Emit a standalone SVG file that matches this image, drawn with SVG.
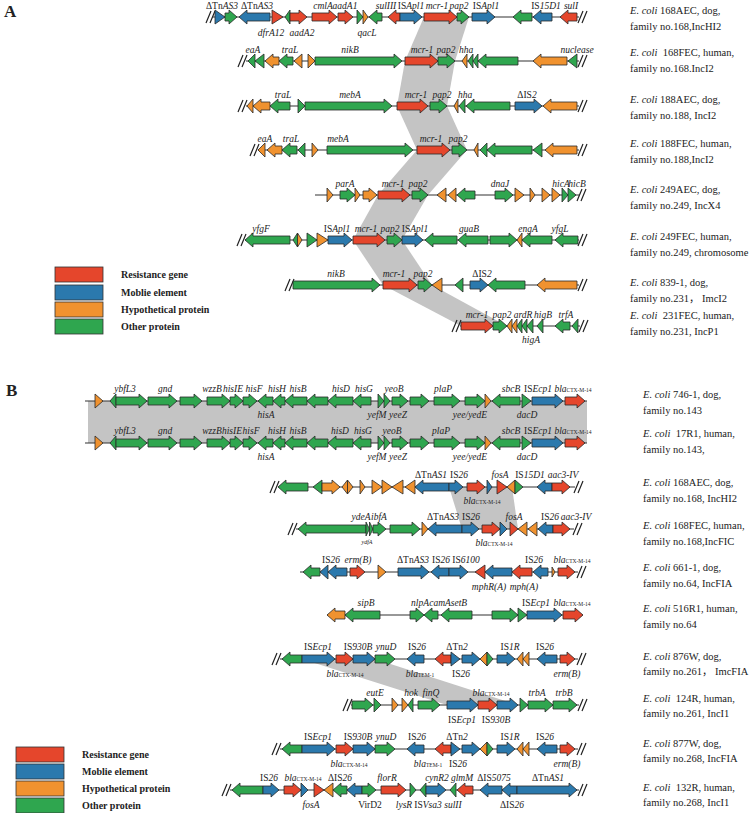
<svg xmlns="http://www.w3.org/2000/svg" xmlns:xlink="http://www.w3.org/1999/xlink" width="750" height="813" viewBox="0 0 750 813">
<style>
polygon{stroke:#2a2a2a;stroke-width:0.8;stroke-linejoin:miter}
.r{fill:#e5462c}.b{fill:#2b79ad}.o{fill:#f0922f}.g{fill:#2fa64f}
.ln{stroke:#333;stroke-width:1.2}
.band{fill:#c4c4c4;stroke:none}
text{font-family:"Liberation Serif","Noto Sans CJK SC",serif;fill:#222}
.t{font-size:9.5px;font-style:italic;text-anchor:middle}
.u{font-style:normal}
.s{font-size:5.5px;font-style:normal}
.rl{font-size:10.5px;white-space:pre}
.i{font-style:italic}
.lg{font-size:10px;font-weight:bold}
.pl{font-size:17px;font-weight:bold}
.leg{stroke:#333;stroke-width:0.8}
</style>
<defs>
<g id="brk"><path d="M0,6 L5,-6 M4,6 L9,-6" stroke="#222" stroke-width="1.2" fill="none"/></g>
</defs>
<rect width="750" height="813" fill="#fff"/>

<text class="pl" x="4" y="17">A</text>
<text class="pl" x="6" y="396">B</text>

<g id="connectors">
<polygon class="band" points="424,17 469,17 455,61 405,61"/>
<polygon class="band" points="405,61 455,61 447,106 397,106"/>
<polygon class="band" points="397,106 447,106 467,150 417,150"/>
<polygon class="band" points="417,150 467,150 428,195 378,195"/>
<polygon class="band" points="378,195 428,195 402,240 353,240"/>
<polygon class="band" points="353,240 402,240 432,285 383,285"/>
<polygon class="band" points="383,285 432,285 507,326 461,326"/>
<rect class="band" x="88" y="401" width="499" height="42"/>
<polygon class="band" points="449,487 512,487 518,529 462,529"/>
<polygon class="band" points="302,659 375,659 518,705 447,705"/>
</g>

<!-- Panel A -->
<g id="a1" transform="translate(0,17)">
<line class="ln" x1="213" x2="579" y1="0" y2="0"/>
<use href="#brk" x="206" y="0"/><use href="#brk" x="578" y="0"/>
<polygon class="b" points="215,-7 225,0 215,7"/>
<polygon class="g" points="225,-4 229,-4 229,-7 237,0 229,7 229,4 225,4"/>
<polygon class="b" points="270,-4 247,-4 247,-7 239,0 247,7 247,4 270,4"/>
<polygon class="r" points="272,-7 283,0 272,7"/>
<polygon class="g" points="290,-7 285,0 290,7"/>
<polygon class="r" points="290,-4 299,-4 299,-7 307,0 299,7 299,4 290,4"/>
<polygon class="r" points="312,-4 329,-4 329,-7 337,0 329,7 329,4 312,4"/>
<polygon class="r" points="338,-4 345,-4 345,-7 353,0 345,7 345,4 338,4"/>
<polygon class="g" points="357,-7 363,0 357,7"/>
<polygon class="o" points="363,-7 368,0 363,7"/>
<polygon class="g" points="382,-4 377,-4 377,-7 369,0 377,7 377,4 382,4"/>
<polygon class="r" points="400,-4 396,-4 396,-7 388,0 396,7 396,4 400,4"/>
<polygon class="b" points="400,-4 414,-4 414,-7 422,0 414,7 414,4 400,4"/>
<polygon class="r" points="424,-4 449,-4 449,-7 457,0 449,7 449,4 424,4"/>
<polygon class="g" points="457,-4 461,-4 461,-7 469,0 461,7 461,4 457,4"/>
<polygon class="b" points="472,-4 487,-4 487,-7 495,0 487,7 487,4 472,4"/>
<polygon class="g" points="532,-4 521,-4 521,-7 513,0 521,7 521,4 532,4"/>
<polygon class="b" points="552,-4 541,-4 541,-7 533,0 541,7 541,4 552,4"/>
<polygon class="r" points="577,-4 568,-4 568,-7 560,0 568,7 568,4 577,4"/>
<text class="t" x="222" y="-8"><tspan class="u">ΔTn</tspan>AS3</text>
<text class="t" x="257" y="-8"><tspan class="u">ΔTn</tspan>AS3</text>
<text class="t" x="323" y="-8">cmlA</text>
<text class="t" x="345" y="-8">aadA1</text>
<text class="t" x="386" y="-8">sulIII</text>
<text class="t" x="411" y="-8"><tspan class="u">IS</tspan>Apl1</text>
<text class="t" x="437" y="-8">mcr-1</text>
<text class="t" x="459" y="-8">pap2</text>
<text class="t" x="486" y="-8"><tspan class="u">IS</tspan>Apl1</text>
<text class="t" x="546" y="-8"><tspan class="u">IS</tspan>15D1</text>
<text class="t" x="571" y="-8">sulI</text>
<text class="t" x="271" y="19">dfrA12</text>
<text class="t" x="302" y="19">aadA2</text>
<text class="t" x="367" y="19">qacL</text>
</g>

<g id="a2" transform="translate(0,61)">
<line class="ln" x1="246" x2="579" y1="0" y2="0"/>
<use href="#brk" x="238" y="0"/><use href="#brk" x="578" y="0"/>
<polygon class="g" points="255,-7 248,0 255,7"/>
<polygon class="g" points="264,-7 255,0 264,7"/>
<polygon class="o" points="279,-4 273,-4 273,-7 265,0 273,7 273,4 279,4"/>
<polygon class="g" points="293,-4 287,-4 287,-7 279,0 287,7 287,4 293,4"/>
<polygon class="o" points="302,-7 294,0 302,7"/>
<polygon class="o" points="308,-7 315,0 308,7"/>
<polygon class="g" points="315,-4 394,-4 394,-7 402,0 394,7 394,4 315,4"/>
<polygon class="r" points="405,-4 430,-4 430,-7 438,0 430,7 430,4 405,4"/>
<polygon class="g" points="438,-4 447,-4 447,-7 455,0 447,7 447,4 438,4"/>
<polygon class="o" points="467,-7 462,0 467,7"/>
<polygon class="g" points="473,-7 468,0 473,7"/>
<polygon class="g" points="478,-7 473,0 478,7"/>
<polygon class="g" points="518,-4 486,-4 486,-7 478,0 486,7 486,4 518,4"/>
<polygon class="o" points="567,-4 541,-4 541,-7 533,0 541,7 541,4 567,4"/>
<polygon class="g" points="577,-7 568,0 577,7"/>
<text class="t" x="253" y="-8">eaA</text>
<text class="t" x="290" y="-8">traL</text>
<text class="t" x="350" y="-8">nikB</text>
<text class="t" x="422" y="-8">mcr-1</text>
<text class="t" x="446" y="-8">pap2</text>
<text class="t" x="466" y="-8">hha</text>
<text class="t" x="577" y="-8">nuclease</text>
</g>

<g id="a3" transform="translate(0,106)">
<line class="ln" x1="246" x2="579" y1="0" y2="0"/>
<use href="#brk" x="238" y="0"/><use href="#brk" x="578" y="0"/>
<polygon class="o" points="253,-7 247,0 253,7"/>
<polygon class="o" points="270,-4 261,-4 261,-7 253,0 261,7 261,4 270,4"/>
<polygon class="g" points="290,-4 278,-4 278,-7 270,0 278,7 278,4 290,4"/>
<polygon class="g" points="298,-7 305,0 298,7"/>
<polygon class="g" points="305,-4 384,-4 384,-7 392,0 384,7 384,4 305,4"/>
<polygon class="r" points="397,-4 420,-4 420,-7 428,0 420,7 420,4 397,4"/>
<polygon class="g" points="430,-4 439,-4 439,-7 447,0 439,7 439,4 430,4"/>
<polygon class="o" points="458,-7 454,0 458,7"/>
<polygon class="g" points="465,-7 459,0 465,7"/>
<polygon class="g" points="510,-4 474,-4 474,-7 466,0 474,7 474,4 510,4"/>
<polygon class="b" points="515,-4 534,-4 534,-7 542,0 534,7 534,4 515,4"/>
<polygon class="o" points="577,-4 551,-4 551,-7 543,0 551,7 551,4 577,4"/>
<text class="t" x="283" y="-8">traL</text>
<text class="t" x="350" y="-8">mebA</text>
<text class="t" x="416" y="-8">mcr-1</text>
<text class="t" x="442" y="-8">pap2</text>
<text class="t" x="465" y="-8">hha</text>
<text class="t" x="527" y="-8"><tspan class="u">ΔIS</tspan>2</text>
</g>

<g id="a4" transform="translate(0,150)">
<line class="ln" x1="258" x2="579" y1="0" y2="0"/>
<use href="#brk" x="250" y="0"/><use href="#brk" x="578" y="0"/>
<polygon class="o" points="265,-7 258,0 265,7"/>
<polygon class="o" points="282,-4 275,-4 275,-7 267,0 275,7 275,4 282,4"/>
<polygon class="g" points="297,-4 290,-4 290,-7 282,0 290,7 290,4 297,4"/>
<polygon class="g" points="305,-7 298,0 305,7"/>
<polygon class="o" points="312,-7 318,0 312,7"/>
<polygon class="g" points="327,-4 405,-4 405,-7 413,0 405,7 405,4 327,4"/>
<polygon class="r" points="417,-4 442,-4 442,-7 450,0 442,7 442,4 417,4"/>
<polygon class="g" points="452,-4 459,-4 459,-7 467,0 459,7 459,4 452,4"/>
<polygon class="o" points="478,-7 474,0 478,7"/>
<polygon class="g" points="487,-7 480,0 487,7"/>
<polygon class="g" points="532,-4 495,-4 495,-7 487,0 495,7 495,4 532,4"/>
<polygon class="g" points="542,-7 533,0 542,7"/>
<polygon class="o" points="577,-4 553,-4 553,-7 545,0 553,7 553,4 577,4"/>
<text class="t" x="265" y="-8">eaA</text>
<text class="t" x="291" y="-8">traL</text>
<text class="t" x="338" y="-8">mebA</text>
<text class="t" x="431" y="-8">mcr-1</text>
<text class="t" x="458" y="-8">pap2</text>
</g>

<g id="a5" transform="translate(0,195)">
<line class="ln" x1="315" x2="579" y1="0" y2="0"/>
<use href="#brk" x="577" y="0"/>
<polygon class="o" points="327,-7 333,0 327,7"/>
<polygon class="g" points="340,-4 347,-4 347,-7 355,0 347,7 347,4 340,4"/>
<polygon class="o" points="355,-7 360,0 355,7"/>
<polygon class="o" points="363,-4 369,-4 369,-7 377,0 369,7 369,4 363,4"/>
<polygon class="r" points="378,-4 402,-4 402,-7 410,0 402,7 402,4 378,4"/>
<polygon class="g" points="412,-4 420,-4 420,-7 428,0 420,7 420,4 412,4"/>
<polygon class="o" points="446,-7 437,0 446,7"/>
<polygon class="o" points="456,-7 448,0 456,7"/>
<polygon class="g" points="475,-4 465,-4 465,-7 457,0 465,7 465,4 475,4"/>
<polygon class="g" points="495,-4 505,-4 505,-7 513,0 505,7 505,4 495,4"/>
<polygon class="o" points="515,-7 524,0 515,7"/>
<polygon class="o" points="530,-7 535,0 530,7"/>
<polygon class="o" points="542,-7 550,0 542,7"/>
<polygon class="o" points="552,-7 560,0 552,7"/>
<polygon class="g" points="562,-7 568,0 562,7"/>
<polygon class="g" points="568,-7 576,0 568,7"/>
<text class="t" x="345" y="-8">parA</text>
<text class="t" x="393" y="-8">mcr-1</text>
<text class="t" x="418" y="-8">pap2</text>
<text class="t" x="500" y="-8">dnaJ</text>
<text class="t" x="561" y="-8">hicA</text>
<text class="t" x="577" y="-8">hicB</text>
</g>

<g id="a6" transform="translate(0,240)">
<line class="ln" x1="245" x2="579" y1="0" y2="0"/>
<use href="#brk" x="237" y="0"/><use href="#brk" x="578" y="0"/>
<polygon class="g" points="290,-4 253,-4 253,-7 245,0 253,7 253,4 290,4"/>
<polygon class="g" points="297.5,-7 293,0 297.5,7"/>
<polygon class="o" points="297.5,-7 302,0 297.5,7"/>
<polygon class="g" points="307,-7 317,0 307,7"/>
<polygon class="o" points="317,-7 328,0 317,7"/>
<polygon class="b" points="328,-4 344,-4 344,-7 352,0 344,7 344,4 328,4"/>
<polygon class="r" points="353,-4 377,-4 377,-7 385,0 377,7 377,4 353,4"/>
<polygon class="g" points="387,-4 394,-4 394,-7 402,0 394,7 394,4 387,4"/>
<polygon class="b" points="402,-4 415,-4 415,-7 423,0 415,7 415,4 402,4"/>
<polygon class="g" points="457,-4 433,-4 433,-7 425,0 433,7 433,4 457,4"/>
<polygon class="g" points="488,-4 466,-4 466,-7 458,0 466,7 466,4 488,4"/>
<polygon class="g" points="490,-4 509,-4 509,-7 517,0 509,7 509,4 490,4"/>
<polygon class="o" points="522,-7 517,0 522,7"/>
<polygon class="g" points="552,-4 530,-4 530,-7 522,0 530,7 530,4 552,4"/>
<polygon class="g" points="578,-4 563,-4 563,-7 555,0 563,7 563,4 578,4"/>
<text class="t" x="261" y="-8">yfgF</text>
<text class="t" x="337" y="-8"><tspan class="u">IS</tspan>Apl1</text>
<text class="t" x="366" y="-8">mcr-1</text>
<text class="t" x="390" y="-8">pap2</text>
<text class="t" x="415" y="-8"><tspan class="u">IS</tspan>Apl1</text>
<text class="t" x="469" y="-8">guaB</text>
<text class="t" x="528" y="-8">engA</text>
<text class="t" x="560" y="-8">yfgL</text>
</g>

<g id="a7" transform="translate(0,285)">
<line class="ln" x1="293" x2="579" y1="0" y2="0"/>
<use href="#brk" x="285" y="0"/><use href="#brk" x="578" y="0"/>
<polygon class="g" points="293,-4 372,-4 372,-7 380,0 372,7 372,4 293,4"/>
<polygon class="r" points="383,-4 409,-4 409,-7 417,0 409,7 409,4 383,4"/>
<polygon class="g" points="418,-4 424,-4 424,-7 432,0 424,7 424,4 418,4"/>
<polygon class="o" points="442,-7 432,0 442,7"/>
<polygon class="g" points="463,-7 455,0 463,7"/>
<polygon class="b" points="470,-4 480,-4 480,-7 488,0 480,7 480,4 470,4"/>
<polygon class="g" points="525,-4 496,-4 496,-7 488,0 496,7 496,4 525,4"/>
<polygon class="o" points="577,-4 545,-4 545,-7 537,0 545,7 545,4 577,4"/>
<text class="t" x="336" y="-8">nikB</text>
<text class="t" x="394" y="-8">mcr-1</text>
<text class="t" x="423" y="-8">pap2</text>
<text class="t" x="482" y="-8"><tspan class="u">ΔIS</tspan>2</text>
</g>

<g id="a8" transform="translate(0,326)">
<line class="ln" x1="460" x2="580" y1="0" y2="0"/>
<use href="#brk" x="452" y="0"/><use href="#brk" x="579" y="0"/>
<polygon class="r" points="461,-4 485,-4 485,-7 493,0 485,7 485,4 461,4"/>
<polygon class="g" points="493,-4 499,-4 499,-7 507,0 499,7 499,4 493,4"/>
<polygon class="o" points="512,-7 507,0 512,7"/>
<polygon class="o" points="517,-7 512,0 517,7"/>
<polygon class="g" points="522,-7 517,0 522,7"/>
<polygon class="g" points="527,-7 522,0 527,7"/>
<polygon class="g" points="533,-7 527,0 533,7"/>
<polygon class="g" points="543,-7 537,0 543,7"/>
<polygon class="g" points="570,-4 563,-4 563,-7 555,0 563,7 563,4 570,4"/>
<polygon class="g" points="578,-7 572,0 578,7"/>
<text class="t" x="477" y="-8">mcr-1</text>
<text class="t" x="502" y="-8">pap2</text>
<text class="t" x="523" y="-8">ardR</text>
<text class="t" x="543" y="-8">higB</text>
<text class="t" x="566" y="-8">trfA</text>
<text class="t" x="531" y="17">higA</text>
</g>

<g id="labelsA">
<text class="rl" x="630" y="14"><tspan class="i">E. coli</tspan> 168AEC, dog,</text>
<text class="rl" x="630" y="30">family no.168,IncHI2</text>
<text class="rl" x="630" y="56"><tspan class="i">E. coli</tspan>  168FEC, human,</text>
<text class="rl" x="630" y="72">family no.168.IncI2</text>
<text class="rl" x="630" y="103"><tspan class="i">E. coli</tspan> 188AEC, dog,</text>
<text class="rl" x="630" y="119">family no.188, IncI2</text>
<text class="rl" x="630" y="147"><tspan class="i">E. coli</tspan> 188FEC, human,</text>
<text class="rl" x="630" y="163">family no.188,IncI2</text>
<text class="rl" x="630" y="193"><tspan class="i">E. coli</tspan> 249AEC, dog,</text>
<text class="rl" x="630" y="209">family no.249, IncX4</text>
<text class="rl" x="630" y="240"><tspan class="i">E. coli</tspan> 249FEC, human,</text>
<text class="rl" x="630" y="256">family no.249, chromosome</text>
<text class="rl" x="630" y="286"><tspan class="i">E. coli</tspan> 839-1, dog,</text>
<text class="rl" x="630" y="302">family no.231， ImcI2</text>
<text class="rl" x="630" y="319"><tspan class="i">E. coli</tspan>  231FEC, human,</text>
<text class="rl" x="630" y="335">family no.231, IncP1</text>
</g>

<g id="legendA">
<rect class="leg r" x="55" y="267" width="48" height="15"/>
<rect class="leg b" x="55" y="285" width="48" height="15"/>
<rect class="leg o" x="55" y="302" width="48" height="15"/>
<rect class="leg g" x="55" y="319" width="48" height="15"/>
<text class="lg" x="121" y="278">Resistance gene</text>
<text class="lg" x="121" y="296">Moblie element</text>
<text class="lg" x="121" y="313">Hypothetical protein</text>
<text class="lg" x="121" y="330">Other protein</text>
</g>

<!-- Panel B -->
<g id="b1" transform="translate(0,401)">
<line class="ln" x1="85" x2="587" y1="0" y2="0"/>
<polygon class="o" points="95,-7 103,0 95,7"/>
<polygon class="g" points="116,-7 110,0 116,7"/>
<polygon class="g" points="116,-4 139,-4 139,-7 147,0 139,7 139,4 116,4"/>
<polygon class="g" points="148,-4 169,-4 169,-7 177,0 169,7 169,4 148,4"/>
<polygon class="g" points="180,-4 194,-4 194,-7 202,0 194,7 194,4 180,4"/>
<polygon class="g" points="207,-4 222,-4 222,-7 230,0 222,7 222,4 207,4"/>
<polygon class="g" points="230,-4 235,-4 235,-7 243,0 235,7 235,4 230,4"/>
<polygon class="g" points="243,-4 249,-4 249,-7 257,0 249,7 249,4 243,4"/>
<polygon class="g" points="273,-4 266,-4 266,-7 258,0 266,7 266,4 273,4"/>
<polygon class="g" points="285,-4 281,-4 281,-7 273,0 281,7 281,4 285,4"/>
<polygon class="g" points="307,-4 293,-4 293,-7 285,0 293,7 293,4 307,4"/>
<polygon class="g" points="328,-4 315,-4 315,-7 307,0 315,7 315,4 328,4"/>
<polygon class="g" points="353,-4 336,-4 336,-7 328,0 336,7 336,4 353,4"/>
<polygon class="g" points="371,-4 361,-4 361,-7 353,0 361,7 361,4 371,4"/>
<polygon class="g" points="378,-7 384,0 378,7"/>
<polygon class="g" points="384,-7 390,0 384,7"/>
<polygon class="g" points="392,-4 400,-4 400,-7 408,0 400,7 400,4 392,4"/>
<polygon class="g" points="410,-4 421,-4 421,-7 429,0 421,7 421,4 410,4"/>
<polygon class="g" points="434,-4 452,-4 452,-7 460,0 452,7 452,4 434,4"/>
<polygon class="g" points="465,-4 477,-4 477,-7 485,0 477,7 477,4 465,4"/>
<polygon class="o" points="485,-7 491,0 485,7"/>
<polygon class="g" points="520,-4 500,-4 500,-7 492,0 500,7 500,4 520,4"/>
<polygon class="g" points="522,-7 531,0 522,7"/>
<polygon class="b" points="532,-4 555,-4 555,-7 563,0 555,7 555,4 532,4"/>
<polygon class="r" points="565,-4 577,-4 577,-7 585,0 577,7 577,4 565,4"/>
<text class="t" x="125" y="-9">ybfL3</text>
<text class="t" x="165" y="-9">gnd</text>
<text class="t" x="212" y="-9">wzzB</text>
<text class="t" x="233" y="-9">hisIE</text>
<text class="t" x="254" y="-9">hisF</text>
<text class="t" x="277" y="-9">hisH</text>
<text class="t" x="298" y="-9">hisB</text>
<text class="t" x="341" y="-9">hisD</text>
<text class="t" x="364" y="-9">hisG</text>
<text class="t" x="394" y="-9">yeoB</text>
<text class="t" x="443" y="-9">plaP</text>
<text class="t" x="511" y="-9">sbcB</text>
<text class="t" x="538" y="-9"><tspan class="u">IS</tspan>Ecp1</text>
<text class="t" x="573" y="-9">bla<tspan class="s">CTX-M-14</tspan></text>
<text class="t" x="266" y="17">hisA</text>
<text class="t" x="377" y="17">yefM</text>
<text class="t" x="398" y="17">yeeZ</text>
<text class="t" x="470" y="17">yee/yedE</text>
<text class="t" x="527" y="17">dacD</text>
</g>

<g id="b2" transform="translate(0,443)">
<line class="ln" x1="85" x2="587" y1="0" y2="0"/>
<polygon class="o" points="95,-7 103,0 95,7"/>
<polygon class="g" points="116,-7 110,0 116,7"/>
<polygon class="g" points="116,-4 139,-4 139,-7 147,0 139,7 139,4 116,4"/>
<polygon class="g" points="148,-4 169,-4 169,-7 177,0 169,7 169,4 148,4"/>
<polygon class="g" points="180,-4 194,-4 194,-7 202,0 194,7 194,4 180,4"/>
<polygon class="g" points="207,-4 222,-4 222,-7 230,0 222,7 222,4 207,4"/>
<polygon class="g" points="230,-4 235,-4 235,-7 243,0 235,7 235,4 230,4"/>
<polygon class="g" points="243,-4 249,-4 249,-7 257,0 249,7 249,4 243,4"/>
<polygon class="g" points="273,-4 266,-4 266,-7 258,0 266,7 266,4 273,4"/>
<polygon class="g" points="285,-4 281,-4 281,-7 273,0 281,7 281,4 285,4"/>
<polygon class="g" points="307,-4 293,-4 293,-7 285,0 293,7 293,4 307,4"/>
<polygon class="g" points="328,-4 315,-4 315,-7 307,0 315,7 315,4 328,4"/>
<polygon class="g" points="353,-4 336,-4 336,-7 328,0 336,7 336,4 353,4"/>
<polygon class="g" points="371,-4 361,-4 361,-7 353,0 361,7 361,4 371,4"/>
<polygon class="g" points="378,-7 384,0 378,7"/>
<polygon class="g" points="384,-7 390,0 384,7"/>
<polygon class="g" points="392,-4 400,-4 400,-7 408,0 400,7 400,4 392,4"/>
<polygon class="g" points="410,-4 421,-4 421,-7 429,0 421,7 421,4 410,4"/>
<polygon class="g" points="434,-4 452,-4 452,-7 460,0 452,7 452,4 434,4"/>
<polygon class="g" points="465,-4 477,-4 477,-7 485,0 477,7 477,4 465,4"/>
<polygon class="o" points="485,-7 491,0 485,7"/>
<polygon class="g" points="520,-4 500,-4 500,-7 492,0 500,7 500,4 520,4"/>
<polygon class="g" points="522,-7 531,0 522,7"/>
<polygon class="b" points="532,-4 555,-4 555,-7 563,0 555,7 555,4 532,4"/>
<polygon class="r" points="565,-4 577,-4 577,-7 585,0 577,7 577,4 565,4"/>
<text class="t" x="125" y="-9">ybfL3</text>
<text class="t" x="165" y="-9">gnd</text>
<text class="t" x="212" y="-9">wzzB</text>
<text class="t" x="232" y="-9">hisIE</text>
<text class="t" x="251" y="-9">hisF</text>
<text class="t" x="277" y="-9">hisH</text>
<text class="t" x="298" y="-9">hisB</text>
<text class="t" x="340" y="-9">hisD</text>
<text class="t" x="363" y="-9">hisG</text>
<text class="t" x="392" y="-9">yeoB</text>
<text class="t" x="441" y="-9">plaP</text>
<text class="t" x="511" y="-9">sbcB</text>
<text class="t" x="538" y="-9"><tspan class="u">IS</tspan>Ecp1</text>
<text class="t" x="573" y="-9">bla<tspan class="s">CTX-M-14</tspan></text>
<text class="t" x="266" y="17">hisA</text>
<text class="t" x="377" y="17">yefM</text>
<text class="t" x="398" y="17">yeeZ</text>
<text class="t" x="470" y="17">yee/yedE</text>
<text class="t" x="527" y="17">dacD</text>
</g>

<g id="b3" transform="translate(0,487)">
<line class="ln" x1="278" x2="575" y1="0" y2="0"/>
<use href="#brk" x="270" y="0"/><use href="#brk" x="574" y="0"/>
<polygon class="g" points="308,-4 286,-4 286,-7 278,0 286,7 286,4 308,4"/>
<polygon class="g" points="322,-7 313,0 322,7"/>
<polygon class="o" points="322,-4 332,-4 332,-7 340,0 332,7 332,4 322,4"/>
<polygon class="o" points="347.5,-7 342,0 347.5,7"/>
<polygon class="o" points="347.5,-7 353,0 347.5,7"/>
<polygon class="o" points="360,-7 365,0 360,7"/>
<polygon class="o" points="372,-7 382,0 372,7"/>
<polygon class="o" points="382,-7 392,0 382,7"/>
<polygon class="o" points="403,-7 392,0 403,7"/>
<polygon class="o" points="415,-7 405,0 415,7"/>
<polygon class="b" points="449,-4 423,-4 423,-7 415,0 423,7 423,4 449,4"/>
<polygon class="b" points="449,-4 455,-4 455,-7 463,0 455,7 455,4 449,4"/>
<polygon class="r" points="467,-4 477,-4 477,-7 485,0 477,7 477,4 467,4"/>
<polygon class="b" points="487,-7 492,0 487,7"/>
<polygon class="r" points="497,-7 507,0 497,7"/>
<polygon class="o" points="515,-7 507,0 515,7"/>
<polygon class="g" points="515,-7 523,0 515,7"/>
<polygon class="b" points="552,-4 545,-4 545,-7 537,0 545,7 545,4 552,4"/>
<polygon class="r" points="552,-4 562,-4 562,-7 570,0 562,7 562,4 552,4"/>
<text class="t" x="431" y="-9"><tspan class="u">ΔTn</tspan>AS1</text>
<text class="t" x="459" y="-9"><tspan class="u">IS</tspan>26</text>
<text class="t" x="500" y="-9">fosA</text>
<text class="t" x="530" y="-9"><tspan class="u">IS</tspan>15D1</text>
<text class="t" x="563" y="-9">aac3-IV</text>
<text class="t" x="482" y="17">bla<tspan class="s">CTX-M-14</tspan></text>
</g>

<g id="b4" transform="translate(0,529)">
<line class="ln" x1="296" x2="574" y1="0" y2="0"/>
<use href="#brk" x="288" y="0"/><use href="#brk" x="573" y="0"/>
<polygon class="g" points="366,-4 306,-4 306,-7 298,0 306,7 306,4 366,4"/>
<polygon class="g" points="366,-7 369.5,0 366,7"/>
<polygon class="g" points="369.5,-7 373,0 369.5,7"/>
<polygon class="g" points="373,-4 378,-4 378,-7 386,0 378,7 378,4 373,4"/>
<polygon class="g" points="390,-4 412,-4 412,-7 420,0 412,7 412,4 390,4"/>
<polygon class="o" points="422,-7 428,0 422,7"/>
<polygon class="b" points="462,-4 436,-4 436,-7 428,0 436,7 436,4 462,4"/>
<polygon class="b" points="462,-4 471,-4 471,-7 479,0 471,7 471,4 462,4"/>
<polygon class="r" points="482,-4 492,-4 492,-7 500,0 492,7 492,4 482,4"/>
<polygon class="b" points="500,-7 507,0 500,7"/>
<polygon class="r" points="510,-7 518,0 510,7"/>
<polygon class="o" points="527,-7 518,0 527,7"/>
<polygon class="o" points="537,-7 528,0 537,7"/>
<polygon class="b" points="553,-4 546,-4 546,-7 538,0 546,7 546,4 553,4"/>
<polygon class="r" points="553,-4 562,-4 562,-7 570,0 562,7 562,4 553,4"/>
<text class="t" x="361" y="-9">ydeA</text>
<text class="t" x="379" y="-9">ibfA</text>
<text class="t" x="443" y="-9"><tspan class="u">ΔTn</tspan>AS3</text>
<text class="t" x="471" y="-9"><tspan class="u">IS</tspan>26</text>
<text class="t" x="514" y="-9">fosA</text>
<text class="t" x="550" y="-9"><tspan class="u">IS</tspan>26</text>
<text class="t" x="576" y="-9">aac3-IV</text>
<text class="t" x="367" y="15" style="font-size:6px">ydfA</text>
<text class="t" x="494" y="17">bla<tspan class="s">CTX-M-14</tspan></text>
</g>

<g id="b5" transform="translate(0,572)">
<line class="ln" x1="300" x2="578" y1="0" y2="0"/>
<use href="#brk" x="577" y="0"/>
<polygon class="g" points="320,-4 311,-4 311,-7 303,0 311,7 311,4 320,4"/>
<polygon class="b" points="328,-7 320,0 328,7"/>
<polygon class="b" points="347,-4 336,-4 336,-7 328,0 336,7 336,4 347,4"/>
<polygon class="r" points="350,-4 357,-4 357,-7 365,0 357,7 357,4 350,4"/>
<polygon class="o" points="378,-7 386,0 378,7"/>
<polygon class="b" points="398,-4 421,-4 421,-7 429,0 421,7 421,4 398,4"/>
<polygon class="b" points="449,-4 439,-4 439,-7 431,0 439,7 439,4 449,4"/>
<polygon class="b" points="449,-4 460,-4 460,-7 468,0 460,7 460,4 449,4"/>
<polygon class="r" points="485,-7 475,0 485,7"/>
<polygon class="b" points="512,-4 493,-4 493,-7 485,0 493,7 493,4 512,4"/>
<polygon class="r" points="532,-4 520,-4 520,-7 512,0 520,7 520,4 532,4"/>
<polygon class="b" points="548,-4 541,-4 541,-7 533,0 541,7 541,4 548,4"/>
<polygon class="o" points="552,-5 555,0 552,5"/>
<polygon class="r" points="558,-4 567,-4 567,-7 575,0 567,7 567,4 558,4"/>
<text class="t" x="331" y="-9"><tspan class="u">IS</tspan>26</text>
<text class="t" x="358" y="-9">erm(B)</text>
<text class="t" x="413" y="-9"><tspan class="u">ΔTn</tspan>AS3</text>
<text class="t" x="441" y="-9"><tspan class="u">IS</tspan>26</text>
<text class="t" x="466" y="-9"><tspan class="u">IS</tspan>6100</text>
<text class="t" x="534" y="-9"><tspan class="u">IS</tspan>26</text>
<text class="t" x="572" y="-9">bla<tspan class="s">CTX-M-14</tspan></text>
<text class="t" x="489" y="18">mphR(A)</text>
<text class="t" x="524" y="18">mph(A)</text>
</g>

<g id="b6" transform="translate(0,615)">
<line class="ln" x1="327" x2="583" y1="0" y2="0"/>
<polygon class="o" points="345,-4 335,-4 335,-7 327,0 335,7 335,4 345,4"/>
<polygon class="g" points="380,-4 353,-4 353,-7 345,0 353,7 353,4 380,4"/>
<polygon class="g" points="410,-4 416,-4 416,-7 424,0 416,7 416,4 410,4"/>
<polygon class="g" points="438,-4 432,-4 432,-7 424,0 432,7 432,4 438,4"/>
<polygon class="g" points="472,-4 449,-4 449,-7 441,0 449,7 449,4 472,4"/>
<polygon class="g" points="492,-4 510,-4 510,-7 518,0 510,7 510,4 492,4"/>
<polygon class="g" points="518,-7 527,0 518,7"/>
<polygon class="b" points="527,-4 554,-4 554,-7 562,0 554,7 554,4 527,4"/>
<polygon class="r" points="563,-4 575,-4 575,-7 583,0 575,7 575,4 563,4"/>
<text class="t" x="366" y="-9">sipB</text>
<text class="t" x="420" y="-9">nlpA</text>
<text class="t" x="440" y="-9">camA</text>
<text class="t" x="459" y="-9">setB</text>
<text class="t" x="536" y="-9"><tspan class="u">IS</tspan>Ecp1</text>
<text class="t" x="572" y="-9">bla<tspan class="s">CTX-M-14</tspan></text>
</g>

<g id="b7" transform="translate(0,659)">
<line class="ln" x1="280" x2="578" y1="0" y2="0"/>
<use href="#brk" x="272" y="0"/><use href="#brk" x="577" y="0"/>
<polygon class="g" points="302,-4 290,-4 290,-7 282,0 290,7 290,4 302,4"/>
<polygon class="b" points="302,-4 327,-4 327,-7 335,0 327,7 327,4 302,4"/>
<polygon class="r" points="336,-4 345,-4 345,-7 353,0 345,7 345,4 336,4"/>
<polygon class="b" points="353,-4 367,-4 367,-7 375,0 367,7 367,4 353,4"/>
<polygon class="g" points="375,-4 387,-4 387,-7 395,0 387,7 387,4 375,4"/>
<polygon class="b" points="424,-4 415,-4 415,-7 407,0 415,7 415,4 424,4"/>
<polygon class="r" points="451,-4 443,-4 443,-7 435,0 443,7 443,4 451,4"/>
<polygon class="b" points="451,-7 460,0 451,7"/>
<polygon class="b" points="462,-4 472,-4 472,-7 480,0 472,7 472,4 462,4"/>
<polygon class="o" points="487,-7 480,0 487,7"/>
<polygon class="g" points="487,-7 493,0 487,7"/>
<polygon class="b" points="497,-4 507,-4 507,-7 515,0 507,7 507,4 497,4"/>
<polygon class="o" points="523,-7 517,0 523,7"/>
<polygon class="o" points="529,-7 523,0 529,7"/>
<polygon class="b" points="557,-4 545,-4 545,-7 537,0 545,7 545,4 557,4"/>
<polygon class="r" points="560,-4 567,-4 567,-7 575,0 567,7 567,4 560,4"/>
<text class="t" x="318" y="-9"><tspan class="u">IS</tspan>Ecp1</text>
<text class="t" x="358" y="-9"><tspan class="u">IS</tspan>930B</text>
<text class="t" x="386" y="-9">ynuD</text>
<text class="t" x="417" y="-9"><tspan class="u">IS</tspan>26</text>
<text class="t" x="457" y="-9"><tspan class="u">ΔTn</tspan>2</text>
<text class="t" x="510" y="-9"><tspan class="u">IS</tspan>1R</text>
<text class="t" x="545" y="-9"><tspan class="u">IS</tspan>26</text>
<text class="t" x="345" y="18">bla<tspan class="s">CTX-M-14</tspan></text>
<text class="t" x="420" y="18">bla<tspan class="s">TEM-1</tspan></text>
<text class="t" x="461" y="18"><tspan class="u">IS</tspan>26</text>
<text class="t" x="567" y="18">erm(B)</text>
</g>

<g id="b8" transform="translate(0,705)">
<line class="ln" x1="351" x2="579" y1="0" y2="0"/>
<use href="#brk" x="343" y="0"/><use href="#brk" x="578" y="0"/>
<polygon class="g" points="352,-4 365,-4 365,-7 373,0 365,7 365,4 352,4"/>
<polygon class="g" points="374,-7 381,0 374,7"/>
<polygon class="o" points="392,-7 398,0 392,7"/>
<polygon class="o" points="402,-7 408,0 402,7"/>
<polygon class="g" points="413,-7 408,0 413,7"/>
<polygon class="g" points="418,-4 432,-4 432,-7 440,0 432,7 432,4 418,4"/>
<polygon class="b" points="447,-4 470,-4 470,-7 478,0 470,7 470,4 447,4"/>
<polygon class="r" points="478,-4 489,-4 489,-7 497,0 489,7 489,4 478,4"/>
<polygon class="b" points="497,-4 510,-4 510,-7 518,0 510,7 510,4 497,4"/>
<polygon class="g" points="520,-7 528,0 520,7"/>
<polygon class="g" points="528,-4 545,-4 545,-7 553,0 545,7 545,4 528,4"/>
<polygon class="g" points="553,-4 569,-4 569,-7 577,0 569,7 569,4 553,4"/>
<text class="t" x="375" y="-9">eutE</text>
<text class="t" x="411" y="-9">hok</text>
<text class="t" x="431" y="-9">finQ</text>
<text class="t" x="491" y="-9">bla<tspan class="s">CTX-M-14</tspan></text>
<text class="t" x="537" y="-9">trbA</text>
<text class="t" x="564" y="-9">trbB</text>
<text class="t" x="462" y="18"><tspan class="u">IS</tspan>Ecp1</text>
<text class="t" x="496" y="18"><tspan class="u">IS</tspan>930B</text>
</g>

<g id="b9" transform="translate(0,749)">
<line class="ln" x1="280" x2="578" y1="0" y2="0"/>
<use href="#brk" x="272" y="0"/><use href="#brk" x="577" y="0"/>
<polygon class="g" points="302,-4 290,-4 290,-7 282,0 290,7 290,4 302,4"/>
<polygon class="b" points="302,-4 327,-4 327,-7 335,0 327,7 327,4 302,4"/>
<polygon class="r" points="336,-4 345,-4 345,-7 353,0 345,7 345,4 336,4"/>
<polygon class="b" points="353,-4 367,-4 367,-7 375,0 367,7 367,4 353,4"/>
<polygon class="g" points="375,-4 387,-4 387,-7 395,0 387,7 387,4 375,4"/>
<polygon class="b" points="424,-4 415,-4 415,-7 407,0 415,7 415,4 424,4"/>
<polygon class="r" points="451,-4 443,-4 443,-7 435,0 443,7 443,4 451,4"/>
<polygon class="b" points="451,-7 460,0 451,7"/>
<polygon class="b" points="462,-4 472,-4 472,-7 480,0 472,7 472,4 462,4"/>
<polygon class="o" points="487,-7 480,0 487,7"/>
<polygon class="g" points="487,-7 493,0 487,7"/>
<polygon class="b" points="497,-4 507,-4 507,-7 515,0 507,7 507,4 497,4"/>
<polygon class="o" points="523,-7 517,0 523,7"/>
<polygon class="o" points="529,-7 523,0 529,7"/>
<polygon class="b" points="557,-4 545,-4 545,-7 537,0 545,7 545,4 557,4"/>
<polygon class="r" points="560,-4 567,-4 567,-7 575,0 567,7 567,4 560,4"/>
<text class="t" x="318" y="-9"><tspan class="u">IS</tspan>Ecp1</text>
<text class="t" x="358" y="-9"><tspan class="u">IS</tspan>930B</text>
<text class="t" x="386" y="-9">ynuD</text>
<text class="t" x="417" y="-9"><tspan class="u">IS</tspan>26</text>
<text class="t" x="457" y="-9"><tspan class="u">ΔTn</tspan>2</text>
<text class="t" x="510" y="-9"><tspan class="u">IS</tspan>1R</text>
<text class="t" x="545" y="-9"><tspan class="u">IS</tspan>26</text>
<text class="t" x="349" y="18">bla<tspan class="s">CTX-M-14</tspan></text>
<text class="t" x="428" y="18">bla<tspan class="s">TEM-1</tspan></text>
<text class="t" x="458" y="18"><tspan class="u">IS</tspan>26</text>
<text class="t" x="567" y="18">erm(B)</text>
</g>

<g id="b10" transform="translate(0,790)">
<line class="ln" x1="230" x2="579" y1="0" y2="0"/>
<use href="#brk" x="222" y="0"/><use href="#brk" x="578" y="0"/>
<polygon class="g" points="263,-4 240,-4 240,-7 232,0 240,7 240,4 263,4"/>
<polygon class="b" points="263,-4 271,-4 271,-7 279,0 271,7 271,4 263,4"/>
<polygon class="r" points="284,-4 293,-4 293,-7 301,0 293,7 293,4 284,4"/>
<polygon class="b" points="301,-7 308,0 301,7"/>
<polygon class="r" points="314,-7 324,0 314,7"/>
<polygon class="o" points="333,-7 324,0 333,7"/>
<polygon class="g" points="347,-4 341,-4 341,-7 333,0 341,7 341,4 347,4"/>
<polygon class="b" points="362,-4 355,-4 355,-7 347,0 355,7 355,4 362,4"/>
<polygon class="g" points="362,-4 368,-4 368,-7 376,0 368,7 368,4 362,4"/>
<polygon class="r" points="381,-4 398,-4 398,-7 406,0 398,7 398,4 381,4"/>
<polygon class="g" points="410,-7 416,0 410,7"/>
<polygon class="g" points="426,-7 420,0 426,7"/>
<polygon class="b" points="426,-4 438,-4 438,-7 446,0 438,7 438,4 426,4"/>
<polygon class="g" points="456,-7 450,0 456,7"/>
<polygon class="r" points="473,-4 465,-4 465,-7 457,0 465,7 465,4 473,4"/>
<polygon class="b" points="502,-4 488,-4 488,-7 480,0 488,7 488,4 502,4"/>
<polygon class="b" points="517,-4 510,-4 510,-7 502,0 510,7 510,4 517,4"/>
<polygon class="b" points="517,-4 569,-4 569,-7 577,0 569,7 569,4 517,4"/>
<text class="t" x="269" y="-9"><tspan class="u">IS</tspan>26</text>
<text class="t" x="303" y="-9">bla<tspan class="s">CTX-M-14</tspan></text>
<text class="t" x="340" y="-9"><tspan class="u">ΔIS</tspan>26</text>
<text class="t" x="387" y="-9">florR</text>
<text class="t" x="437" y="-9">cynR2</text>
<text class="t" x="462" y="-9">glmM</text>
<text class="t" x="494" y="-9"><tspan class="u">ΔIS</tspan>5075</text>
<text class="t" x="548" y="-9"><tspan class="u">ΔTn</tspan>AS1</text>
<text class="t" x="311" y="18">fosA</text>
<text class="t" x="370" y="18"><tspan class="u">VirD2</tspan></text>
<text class="t" x="404" y="18">lysR</text>
<text class="t" x="428" y="18"><tspan class="u">IS</tspan>Vsa3</text>
<text class="t" x="453" y="18">sulII</text>
<text class="t" x="512" y="18"><tspan class="u">ΔIS</tspan>26</text>
</g>

<g id="labelsB">
<text class="rl" x="643" y="398"><tspan class="i">E. coli</tspan> 746-1, dog,</text>
<text class="rl" x="643" y="414">family no.143</text>
<text class="rl" x="643" y="437"><tspan class="i">E. coli</tspan>  17R1, human,</text>
<text class="rl" x="643" y="453">family no.143,</text>
<text class="rl" x="643" y="486"><tspan class="i">E. coli</tspan> 168AEC, dog,</text>
<text class="rl" x="643" y="502">family no.168, IncHI2</text>
<text class="rl" x="643" y="529"><tspan class="i">E. coli</tspan> 168FEC, human,</text>
<text class="rl" x="643" y="545">family no.168,IncFIC</text>
<text class="rl" x="643" y="571"><tspan class="i">E. coli</tspan> 661-1, dog,</text>
<text class="rl" x="643" y="587">family no.64, IncFIA</text>
<text class="rl" x="643" y="612"><tspan class="i">E. coli</tspan> 516R1, human,</text>
<text class="rl" x="643" y="628">family no.64</text>
<text class="rl" x="643" y="660"><tspan class="i">E. coli</tspan> 876W, dog,</text>
<text class="rl" x="643" y="675">family no.261， ImcFIA</text>
<text class="rl" x="643" y="702"><tspan class="i">E. coli</tspan>  124R, human,</text>
<text class="rl" x="643" y="717">family no.261, IncI1</text>
<text class="rl" x="643" y="747"><tspan class="i">E. coli</tspan> 877W, dog,</text>
<text class="rl" x="643" y="762">family no.268, IncFIA</text>
<text class="rl" x="643" y="791"><tspan class="i">E. coli</tspan>  132R, human,</text>
<text class="rl" x="643" y="806">family no.268, IncI1</text>
</g>

<g id="legendB">
<rect class="leg r" x="16" y="747" width="48" height="15"/>
<rect class="leg b" x="16" y="764" width="48" height="15"/>
<rect class="leg o" x="16" y="781" width="48" height="15"/>
<rect class="leg g" x="16" y="798" width="48" height="15"/>
<text class="lg" x="82" y="758">Resistance gene</text>
<text class="lg" x="82" y="775">Moblie element</text>
<text class="lg" x="82" y="792">Hypothetical protein</text>
<text class="lg" x="82" y="809">Other protein</text>
</g>
</svg>
